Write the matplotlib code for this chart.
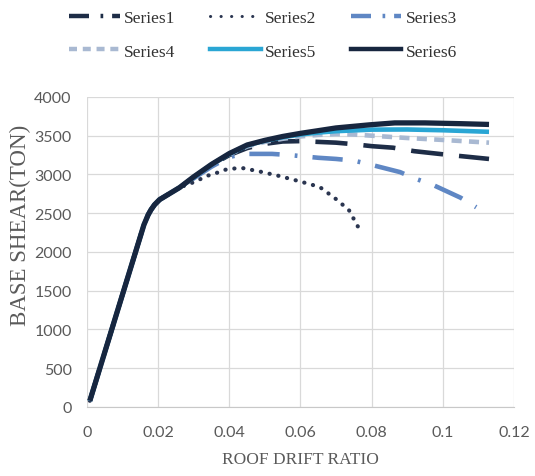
import matplotlib
matplotlib.use("Agg")
import matplotlib.pyplot as plt
from matplotlib.lines import Line2D
from matplotlib.ticker import MultipleLocator, FuncFormatter

# Pushover curves: base shear vs roof drift ratio
rise_x = [0.0008, 0.0160, 0.0172, 0.018, 0.019, 0.0204, 0.026]
rise_y = [80, 2350, 2480, 2545, 2610, 2675, 2830]

s1_x = rise_x + [0.030, 0.035, 0.040, 0.045, 0.050, 0.055, 0.060, 0.065, 0.070, 0.075, 0.080, 0.086, 0.092, 0.100, 0.113]
s1_y = rise_y + [2960, 3120, 3250, 3340, 3395, 3425, 3430, 3420, 3410, 3390, 3365, 3345, 3300, 3260, 3200]

s2_x = rise_x + [0.030, 0.034, 0.037, 0.039, 0.042, 0.044, 0.0487, 0.0536, 0.0583, 0.0631, 0.0655, 0.0697, 0.0736, 0.0764]
s2_y = rise_y + [2900, 2985, 3028, 3062, 3080, 3080, 3036, 2985, 2929, 2869, 2835, 2693, 2542, 2306]

s3_x = rise_x + [0.030, 0.035, 0.040, 0.044, 0.052, 0.057, 0.065, 0.070, 0.075, 0.079, 0.088, 0.092, 0.097, 0.105, 0.1094]
s3_y = rise_y + [2950, 3100, 3225, 3265, 3265, 3250, 3215, 3200, 3178, 3135, 3030, 2950, 2870, 2700, 2577]

s4_x = rise_x + [0.030, 0.035, 0.040, 0.045, 0.050, 0.055, 0.060, 0.065, 0.070, 0.075, 0.080, 0.090, 0.100, 0.113]
s4_y = rise_y + [2965, 3125, 3260, 3360, 3420, 3460, 3490, 3510, 3520, 3515, 3500, 3470, 3445, 3410]

s5_x = rise_x + [0.030, 0.035, 0.040, 0.045, 0.050, 0.055, 0.060, 0.065, 0.070, 0.080, 0.090, 0.100, 0.113]
s5_y = rise_y + [2965, 3128, 3265, 3375, 3435, 3480, 3515, 3540, 3558, 3578, 3580, 3570, 3550]

s6_x = rise_x + [0.030, 0.035, 0.040, 0.045, 0.050, 0.055, 0.060, 0.065, 0.070, 0.0794, 0.0865, 0.095, 0.105, 0.113]
s6_y = rise_y + [2970, 3130, 3270, 3380, 3440, 3490, 3530, 3565, 3600, 3640, 3665, 3665, 3655, 3645]

labels = ["Series1", "Series2", "Series3", "Series4", "Series5", "Series6"]

C_NAVY = "#1e2d47"
C_DOT = "#2a3550"
C_MID = "#5f87c4"
C_LIGHT = "#a9b9d2"
C_CYAN = "#2aa6d4"
C_DARK = "#17263f"

styles = [
    dict(color=C_NAVY, lw=3.3, dashes=(7.0, 3.5), dash_capstyle="butt"),
    dict(color=C_DOT, lw=3.0, dashes=(0.05, 2.1), dash_capstyle="round"),
    dict(color=C_MID, lw=3.3, dashes=(6.6, 3.3, 0.6, 3.3), dash_capstyle="butt"),
    dict(color=C_LIGHT, lw=3.3, dashes=(2.2, 1.6), dash_capstyle="butt"),
    dict(color=C_CYAN, lw=3.3, linestyle="-", solid_capstyle="butt"),
    dict(color=C_DARK, lw=3.8, linestyle="-", solid_capstyle="butt"),
]

fig = plt.figure(figsize=(5.35, 4.77), dpi=100)
ax = fig.add_axes([0.1626, 0.1447, 0.798, 0.650])

series = [(s1_x, s1_y), (s2_x, s2_y), (s3_x, s3_y), (s4_x, s4_y), (s5_x, s5_y), (s6_x, s6_y)]
for (x, y), st, lab in zip(series, styles, labels):
    ax.plot(x, y, label=lab, **st)

ax.set_xlim(0, 0.12)
ax.set_ylim(0, 4000)
ax.xaxis.set_major_locator(MultipleLocator(0.02))
ax.yaxis.set_major_locator(MultipleLocator(500))
ax.xaxis.set_major_formatter(FuncFormatter(lambda v, p: f"{v:g}"))
ax.grid(True, color="#d9d9d9", lw=0.9)
ax.set_axisbelow(True)
for side in ["left", "right", "top"]:
    ax.spines[side].set_visible(False)
ax.spines["bottom"].set_color("#c8c8c8")
ax.tick_params(length=0, labelsize=11.5, labelcolor="#5a5a5a")
ax.tick_params(axis="y", pad=11)
ax.tick_params(axis="x", pad=13)
for t in ax.get_xticklabels() + ax.get_yticklabels():
    t.set_family("Lato")

fig.text(0.5617, 0.036, "ROOF DRIFT RATIO", ha="center", va="center",
         family="Liberation Serif", fontsize=12.5, color="#5a5a5a")
fig.text(0.038, 0.528, "BASE SHEAR(TON)", ha="center", va="center", rotation=90,
         family="Liberation Serif", fontsize=16.5, color="#5a5a5a")

# legend handles follow the Excel-style line previews
handles = [
    Line2D([], [], color=C_NAVY, lw=3.2, dashes=(4.5, 2.6, 0.6, 2), dash_capstyle="butt"),
    Line2D([], [], color=C_DOT, lw=2.2, dashes=(0.05, 3.4), dash_capstyle="round"),
    Line2D([], [], color=C_MID, lw=3.2, dashes=(4.5, 2.6, 0.6, 2), dash_capstyle="butt"),
    Line2D([], [], color=C_LIGHT, lw=3.2, dashes=(1.8, 1.3), dash_capstyle="butt"),
    Line2D([], [], color=C_CYAN, lw=3.2),
    Line2D([], [], color=C_DARK, lw=3.2),
]
# fig.legend fills column by column, so interleave to read row by row
order = [0, 3, 1, 4, 2, 5]
fig.legend([handles[i] for i in order], [labels[i] for i in order], ncol=3,
           loc="upper center", bbox_to_anchor=(0.492, 1.01),
           frameon=False, prop={"family": "Liberation Serif", "size": 12.5},
           handlelength=2.9, handletextpad=0.25, columnspacing=2.0, labelspacing=1.0,
           labelcolor="#333333")

fig.savefig("out.png", dpi=100)
